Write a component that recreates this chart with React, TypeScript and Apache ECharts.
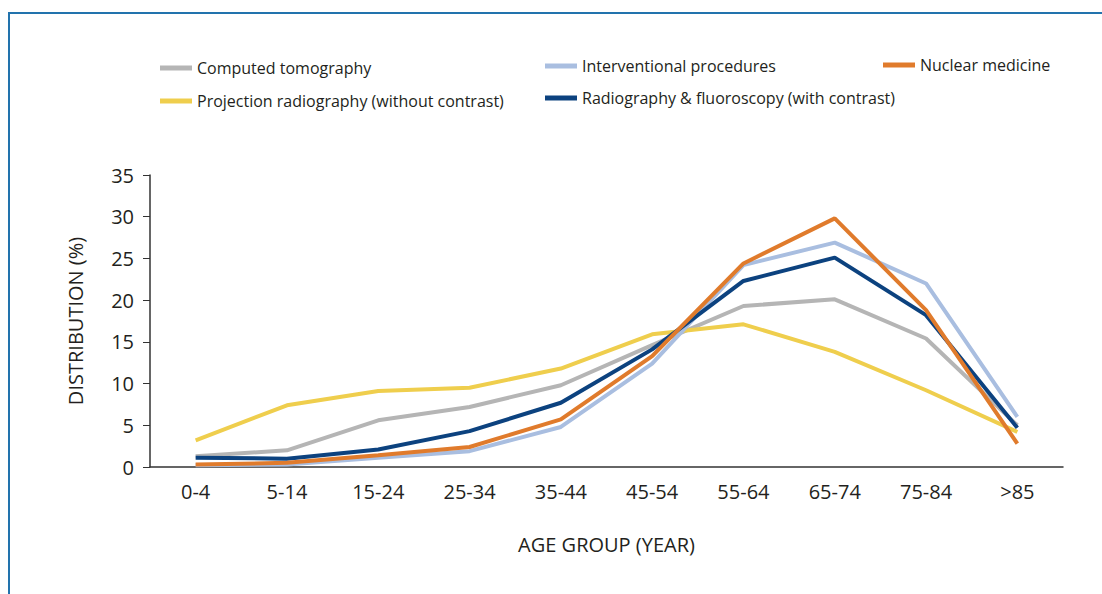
import React, { useEffect, useRef } from "react";
import * as echarts from "echarts";

const ageGroups = ["0-4", "5-14", "15-24", "25-34", "35-44", "45-54", "55-64", "65-74", "75-84", ">85"];

const computedTomography = [1.3, 2.0, 5.6, 7.2, 9.8, 14.6, 19.3, 20.1, 15.4, 5.0];
const interventional = [0.2, 0.3, 1.1, 1.9, 4.8, 12.4, 24.2, 26.9, 22.0, 6.0];
const nuclearMedicine = [0.3, 0.5, 1.4, 2.4, 5.7, 13.3, 24.4, 29.8, 18.8, 2.8];
const projectionRadiography = [3.2, 7.4, 9.1, 9.5, 11.8, 15.9, 17.1, 13.8, 9.2, 4.2];
const radiographyFluoroscopy = [1.1, 1.0, 2.1, 4.3, 7.7, 14.1, 22.3, 25.1, 18.2, 4.7];

const yTicks = { min: 0, max: 35, interval: 5 };

const FONT = "'Open Sans', 'Noto Sans', sans-serif";
const TEXT = "#231f20";

export default function App() {
  const ref = useRef<HTMLDivElement>(null);

  useEffect(() => {
    document.body.style.margin = "0";
    const chart = echarts.init(ref.current!, null, { renderer: "svg" });

    const mk = (name: string, data: number[], color: string, z: number) => ({
      name,
      type: "line",
      data,
      symbol: "none",
      z,
      lineStyle: { color, width: 4 },
      itemStyle: { color },
    });

    const legendItem = (name: string, left: number, top: number) => ({
      data: [name],
      left,
      top,
      icon: "rect",
      itemWidth: 32,
      itemHeight: 5,
      padding: 0,
      textStyle: { fontFamily: FONT, fontSize: 16, color: TEXT },
      selectedMode: false,
    });

    chart.setOption({
      animation: false,
      backgroundColor: "#ffffff",
      textStyle: { fontFamily: FONT },
      graphic: [
        {
          type: "rect",
          shape: { x: 9, y: 13, width: 1200, height: 700 },
          style: { fill: "none", stroke: "#2273ad", lineWidth: 2 },
          silent: true,
        },
      ],
      legend: [
        legendItem("Computed tomography", 160, 60),
        legendItem("Interventional procedures", 545, 58),
        legendItem("Nuclear medicine", 883, 57),
        legendItem("Projection radiography (without contrast)", 160, 93),
        legendItem("Radiography & fluoroscopy (with contrast)", 545, 90),
      ],
      grid: { left: 150, right: 39, top: 175, bottom: 127 },
      xAxis: {
        type: "category",
        data: ageGroups,
        boundaryGap: true,
        name: "AGE GROUP (YEAR)",
        nameLocation: "middle",
        nameGap: 67,
        nameTextStyle: { fontFamily: FONT, fontSize: 20, color: TEXT },
        axisLine: { lineStyle: { color: "#333", width: 1.5 } },
        axisTick: { alignWithLabel: true, length: 6, lineStyle: { color: "#333" } },
        axisLabel: { fontFamily: FONT, fontSize: 20, color: TEXT, margin: 14 },
        splitLine: { show: false },
      },
      yAxis: {
        type: "value",
        min: yTicks.min,
        max: yTicks.max,
        interval: yTicks.interval,
        name: "DISTRIBUTION (%)",
        nameLocation: "middle",
        nameGap: 65,
        nameRotate: 90,
        nameTextStyle: { fontFamily: FONT, fontSize: 20, color: TEXT },
        axisLine: { show: true, lineStyle: { color: "#333", width: 1.5 } },
        axisTick: { show: true, length: 7, lineStyle: { color: "#333" } },
        axisLabel: { fontFamily: FONT, fontSize: 20, color: TEXT, margin: 16 },
        splitLine: { show: false },
      },
      series: [
        mk("Computed tomography", computedTomography, "#b5b5b5", 2),
        mk("Projection radiography (without contrast)", projectionRadiography, "#efce4d", 3),
        mk("Interventional procedures", interventional, "#a9bee0", 4),
        mk("Radiography & fluoroscopy (with contrast)", radiographyFluoroscopy, "#0c427f", 5),
        mk("Nuclear medicine", nuclearMedicine, "#e07b2c", 6),
      ],
    });

    return () => chart.dispose();
  }, []);

  return <div ref={ref} style={{ width: 1102, height: 594 }} />;
}
